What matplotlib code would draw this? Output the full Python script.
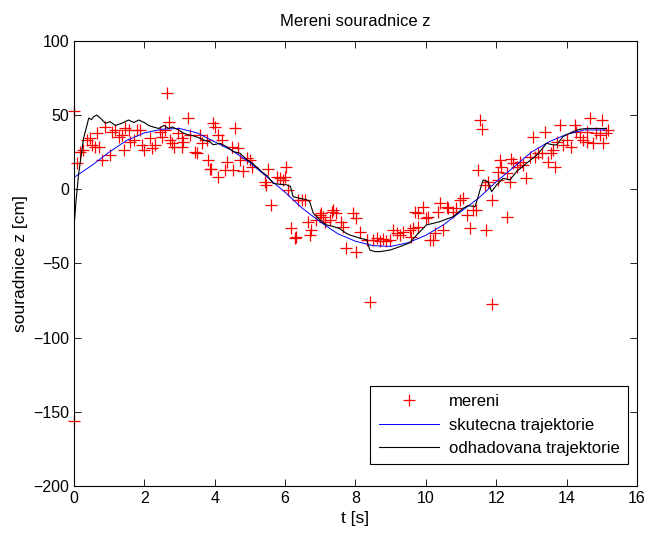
import matplotlib
matplotlib.use("Agg")
import matplotlib.pyplot as plt

plt.rcParams['font.family'] = ['Liberation Sans', 'DejaVu Sans']

# mereni (red + markers)
t_mer = [0.0, 0.0, 0.09, 0.18, 0.27, 0.37, 0.46, 0.51, 0.6, 0.65, 0.7, 0.8, 0.89,
         1.03, 1.08, 1.17, 1.27, 1.36, 1.41, 1.46, 1.55, 1.6, 1.7, 1.79, 1.88, 1.93,
         1.98, 2.17, 2.22, 2.31, 2.45, 2.5, 2.59, 2.64, 2.69, 2.74, 2.78, 2.83, 2.97,
         3.07, 3.07, 3.1, 3.25, 3.3, 3.44, 3.49, 3.58, 3.63, 3.77, 3.81, 3.86, 3.9,
         3.96, 4.01, 4.09, 4.1, 4.2, 4.29, 4.34, 4.48, 4.53, 4.58, 4.67, 4.72, 4.81,
         4.91, 5.0, 5.05, 5.42, 5.47, 5.52, 5.61, 5.76, 5.85, 5.95, 6.0, 6.04, 6.09,
         6.18, 6.28, 6.32, 6.37, 6.47, 6.56, 6.66, 6.7, 6.75, 6.89, 6.99, 7.03, 7.08,
         7.13, 7.27, 7.32, 7.37, 7.46, 7.6, 7.65, 7.74, 7.94, 8.03, 8.03, 8.13, 8.32,
         8.41, 8.5, 8.6, 8.7, 8.79, 8.88, 8.98, 9.07, 9.17, 9.26, 9.36, 9.55, 9.59,
         9.64, 9.69, 9.78, 9.78, 9.92, 10.02, 10.07, 10.12, 10.21, 10.26, 10.35, 10.4,
         10.49, 10.59, 10.64, 10.78, 10.87, 10.97, 11.06, 11.16, 11.25, 11.35, 11.44,
         11.49, 11.54, 11.61, 11.68, 11.72, 11.77, 11.87, 11.87, 12.05, 12.05, 12.1,
         12.15, 12.3, 12.3, 12.39, 12.43, 12.49, 12.58, 12.67, 12.77, 12.86, 12.96,
         13.05, 13.1, 13.19, 13.29, 13.38, 13.48, 13.57, 13.62, 13.67, 13.72, 13.81,
         13.9, 14.0, 14.14, 14.23, 14.28, 14.38, 14.47, 14.57, 14.57, 14.66, 14.76,
         14.85, 14.95, 15.0, 15.04, 15.13, 15.18]
z_mer = [-156, 53, 17.5, 25.4, 26.5, 33, 34.4, 30, 28.7, 37.8, 28.7, 19.8, 42.2,
         23, 38.8, 40, 35.5, 36.6, 26.5, 41, 40, 32, 33.2, 40, 40, 30,
         26.5, 34.4, 27.7, 30, 38.8, 35.5, 40, 64.7, 45.6, 33.2, 31, 28.7, 37.8,
         28.7, 34.4, 32, 48, 36.6, 25.4, 24.3, 36.6, 31, 33.2, 19.8, 14, 13.5,
         44.5, 42, 8.5, 36.6, 33.2, 13, 18.6, 28.7, 13, 41, 27.6, 19.8, 12,
         21, 19.8, 15.2, 5.1, 3, 14, -10.6, 8.5, 7.4, 6.3, 8.5, 15.2, -0.5,
         -26.3, -33, -32, -7, -7, -7, -21.8, -30.8, -27.4, -20.7, -17.3, -16, -18.5,
         -21.8, -20.7, -15, -14, -16, -21.8, -25.2, -39.8, -16, -19.6, -42, -28.6, -34,
         -75.8, -34, -33, -35, -33.7, -35, -34, -27.4, -29.7, -30.8, -28.6, -27.4, -32,
         -26.3, -15, -25.2, -16, -11.7, -19.6, -18.5, -34, -34, -29.7, -15, -9.4,
         -27.4, -11.7, -12.8, -15, -12.8, -7, -6, -17.3, -26.3, -14, -14,
         13, 46.7, 40.5, 3, -27.4, 5.1, -77.3, -7, 11.9, 6.3, 19.8,
         15.2, 10.8, -18.5, 5.1, 20.4, 17.5, 15.2, 18.6, 16.4, 7.4, 22,
         35.5, 22, 24.3, 24.3, 38.9, 18.6, 24.3, 26.5, 15.2, 32, 43.4,
         29.9, 33.2, 28.7, 43.4, 38.9, 35.5, 33.2, 32, 38.9, 48, 31,
         37.8, 36.6, 46.7, 31, 37.8, 40]

# skutecna trajektorie (blue)
t_skut = [0, 0.5, 1, 1.5, 2, 2.5, 3, 3.5, 4, 4.5, 5, 5.5, 6, 6.5, 7, 7.5, 8, 8.5,
          9, 9.5, 10, 10.5, 11, 11.5, 12, 12.5, 13, 13.5, 14, 14.5, 15, 15.1]
z_skut = [8, 16, 25, 33, 38, 40.5, 41, 38, 32, 26, 18, 8, -2, -13, -22, -30, -35, -38,
          -38.5, -36, -31, -24, -15, -6, 5, 15, 25, 32, 37, 40, 40, 40]

# odhadovana trajektorie (black)
t_odh = [0.02, 0.05, 0.13, 0.27, 0.42, 0.5, 0.56, 0.65, 0.75, 0.89, 1.03, 1.17, 1.36,
         1.55, 1.7, 1.84, 2.0, 2.12, 2.25, 2.41, 2.55, 2.69, 2.8, 2.97, 3.1, 3.21, 3.4,
         3.58, 3.7, 3.86, 3.96, 4.15, 4.34, 4.53, 4.72, 4.91, 5.05, 5.19, 5.38, 5.5,
         5.66, 5.8, 6.04, 6.15, 6.23, 6.4, 6.61, 6.7, 6.8, 6.99, 7.17, 7.36, 7.55, 7.74,
         7.84, 8.0, 8.13, 8.32, 8.41, 8.55, 8.7, 8.98, 9.26, 9.55, 9.74, 10.02, 10.2,
         10.4, 10.6, 10.78, 10.95, 11.06, 11.2, 11.4, 11.5, 11.54, 11.63, 11.77, 11.87,
         12.01, 12.2, 12.39, 12.58, 12.86, 13.15, 13.3, 13.43, 13.6, 13.72, 13.9, 14.19,
         14.38, 14.6, 14.9, 15.13]
z_odh = [-20, -10, 10, 34, 48, 47, 49, 50, 48, 44.5, 45.6, 43, 44.5,
         46.7, 45, 46.7, 45, 43, 42, 41, 43, 41, 42, 40, 38, 37, 36,
         34.4, 33, 32, 30, 31, 28.7, 25.4, 24.3, 20, 18, 15, 11, 9,
         4, 3.5, 3, 2, -5, -6, -7, -8.3, -16, -20.7, -24, -25, -26.5, -29.7,
         -30.8, -32, -33, -34, -41, -42, -42, -41, -38.7, -36, -30.8, -24, -23,
         -21.8, -20, -18.5, -15, -12.8, -11, -11.7, -4, -0.5, 6.3, 5.1, -1.6,
         2.9, 7.4, 6.3, 11.9, 17.5, 23, 27, 31, 30, 29.9, 35.5, 38.9,
         40.5, 41, 41, 41]

fig = plt.figure(figsize=(6.53, 5.33), dpi=100)
ax = fig.add_axes([0.1133, 0.0882, 0.862, 0.835])

ax.plot(t_mer, z_mer, '+', color='red', markersize=8, markeredgewidth=0.9,
        label='mereni', clip_on=False)
ax.plot(t_skut, z_skut, color='blue', linewidth=0.7, label='skutecna trajektorie')
ax.plot(t_odh, z_odh, color='black', linewidth=0.8, label='odhadovana trajektorie')

ax.set_xlim(0, 16)
ax.set_ylim(-200, 100)
ax.set_xticks(range(0, 17, 2))
ax.set_yticks(range(-200, 101, 50))
ax.tick_params(direction='in', top=True, right=True, length=5, labelsize=11.5, width=0.6)
for s in ax.spines.values():
    s.set_linewidth(0.8)

ax.set_title('Mereni souradnice z', fontsize=12, pad=11)
ax.set_xlabel('t [s]', fontsize=12.5, labelpad=4)
ax.set_ylabel('souradnice z [cm]', fontsize=12.5, labelpad=4)

leg = ax.legend(loc='lower right', bbox_to_anchor=(0.984, 0.049), borderaxespad=0,
                fontsize=12, fancybox=False, framealpha=1, edgecolor='black',
                handlelength=3.6, handletextpad=0.6, labelspacing=0.5,
                borderpad=0.5)
leg.get_frame().set_linewidth(0.8)

fig.savefig('out.png', dpi=100)
